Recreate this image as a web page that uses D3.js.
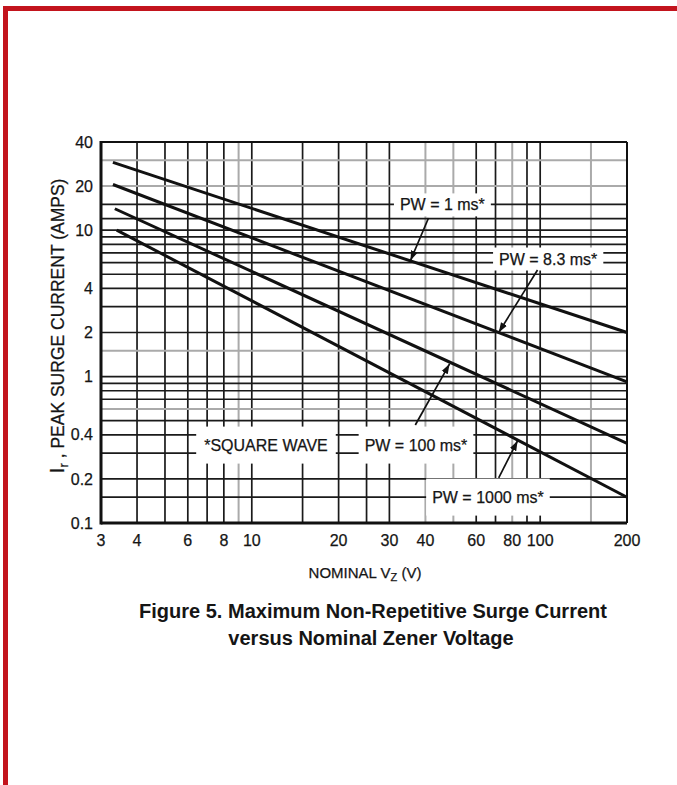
<!DOCTYPE html>
<html>
<head>
<meta charset="utf-8">
<title>Figure 5</title>
<script src="https://cdn.jsdelivr.net/npm/d3@7"></script>
<style>
  body { margin: 0; background: #fff; }
  text { font-family: "Liberation Sans", Arial, sans-serif; fill: #151515; stroke: #151515; stroke-width: 0.25px; }
  .title { font-weight: bold; font-size: 20px; stroke-width: 0; }
</style>
</head>
<body>
<svg id="chart" width="677" height="785"></svg>
<script>
// curves (Vz in volts, Ir in amps), straight on log-log
var seriesNames = ["PW = 1 ms*", "PW = 8.3 ms*", "PW = 100 ms*", "PW = 1000 ms*"];
var seriesVz = [[3.3, 200], [3.3, 200], [3.35, 200], [3.4, 200]];
var seriesIr = [[29, 2.0], [20.5, 0.92], [14, 0.35], [10, 0.15]];

var xTicks = [3, 4, 6, 8, 10, 20, 30, 40, 60, 80, 100, 200];
var yTicks = [0.1, 0.2, 0.4, 1, 2, 4, 10, 20, 40];
var xGrid = [4, 5, 6, 7, 8, 9, 10, 15, 20, 25, 30, 40, 50, 60, 70, 80, 90, 100, 150];
var xGridGray = [9, 40, 50, 80, 150];
var yGrid = [0.15, 0.2, 0.3, 0.4, 0.5, 0.6, 0.7, 0.8, 0.9, 1, 1.5, 2, 3, 4, 5, 6, 7, 8, 9, 10, 12, 15, 20, 30];
var yGridGray = [0.6, 1.5, 20, 30];

// labels + arrows, in data units
var labelVz = [45.8, 106.6, 37.1, 65.9];
var labelIr = [14.9, 6.36, 0.341, 0.1505];
var arrowFrom = [[41, 12.1], [97.9, 5.35], [36.9, 0.467], [71.8, 0.203]];
var arrowTo = [[35.5, 6.2], [71.8, 2.0], [48.5, 1.22], [83.5, 0.365]];
var noteText = "*SQUARE WAVE";
var notePos = [11.2, 0.341];

var svg = d3.select("#chart");
svg.append("rect").attr("width", 677).attr("height", 785).attr("fill", "#fff");

// red frame of the scan
svg.append("rect").attr("x", 3).attr("y", 6).attr("width", 674).attr("height", 5).attr("fill", "#c3141d");
svg.append("rect").attr("x", 3).attr("y", 6).attr("width", 5).attr("height", 779).attr("fill", "#c3141d");

var x = d3.scaleLog().domain([3, 200]).range([101, 627]);
var y = d3.scaleLog().domain([0.1, 40]).range([523, 142]);

var g = svg.append("g");

// grid
g.selectAll("line.vg")
    .data(xGrid)
    .enter()
    .append("line")
    .attr("class", "vg")
    .attr("x1", d => x(d)).attr("x2", d => x(d))
    .attr("y1", y(40)).attr("y2", y(0.1))
    .attr("stroke", d => xGridGray.includes(d) ? "#aaa" : "#1a1a1a")
    .attr("stroke-width", d => xGridGray.includes(d) ? 2 : 1.7);

g.selectAll("line.hg")
    .data(yGrid)
    .enter()
    .append("line")
    .attr("class", "hg")
    .attr("x1", x(3)).attr("x2", x(200))
    .attr("y1", d => y(d)).attr("y2", d => y(d))
    .attr("stroke", d => yGridGray.includes(d) ? "#aaa" : "#1a1a1a")
    .attr("stroke-width", d => yGridGray.includes(d) ? 2 : 1.7);

// frame
g.append("line").attr("x1", x(3)).attr("x2", x(200)).attr("y1", y(40)).attr("y2", y(40)).attr("stroke", "#111").attr("stroke-width", 2);
g.append("line").attr("x1", x(200)).attr("x2", x(200)).attr("y1", y(40)).attr("y2", y(0.1)).attr("stroke", "#111").attr("stroke-width", 2);
g.append("line").attr("x1", x(3)).attr("x2", x(3)).attr("y1", y(40) - 1).attr("y2", y(0.1) + 1.5).attr("stroke", "#111").attr("stroke-width", 3);
g.append("line").attr("x1", x(3)).attr("x2", x(200)).attr("y1", y(0.1)).attr("y2", y(0.1)).attr("stroke", "#111").attr("stroke-width", 3);

// white boxes that cut the grid behind labels
var boxes = g.append("g");
var labels = g.append("g");

function addLabel(txt, px, py, padX, padY) {
    var t = labels.append("text")
        .attr("x", px).attr("y", py)
        .attr("dy", "0.35em")
        .attr("text-anchor", "middle")
        .style("font-size", "16px")
        .text(txt);
    var b = t.node().getBBox();
    boxes.append("rect")
        .attr("x", b.x - padX).attr("y", b.y - padY)
        .attr("width", b.width + 2 * padX).attr("height", b.height + 2 * padY)
        .attr("fill", "#fff");
}

// curves
var line = d3.line().x(d => x(d[0])).y(d => y(d[1]));
seriesNames.forEach(function(name, i) {
    var pts = seriesVz[i].map((v, j) => [v, seriesIr[i][j]]);
    g.append("path")
        .attr("d", line(pts))
        .attr("fill", "none")
        .attr("stroke", "#111")
        .attr("stroke-width", 3);
});

svg.append("defs").append("marker")
    .attr("id", "arr")
    .attr("viewBox", "0 0 10 10")
    .attr("refX", 10).attr("refY", 5)
    .attr("markerWidth", 10).attr("markerHeight", 10)
    .attr("markerUnits", "userSpaceOnUse")
    .attr("orient", "auto")
    .append("path")
    .attr("d", "M0,1.5L10,5L0,8.5Z")
    .attr("fill", "#111");

seriesNames.forEach(function(name, i) {
    addLabel(name, x(labelVz[i]), y(labelIr[i]), 6, i < 2 ? 3 : 10);
    g.append("line")
        .attr("x1", x(arrowFrom[i][0])).attr("y1", y(arrowFrom[i][1]))
        .attr("x2", x(arrowTo[i][0])).attr("y2", y(arrowTo[i][1]))
        .attr("stroke", "#111")
        .attr("stroke-width", 1.7)
        .attr("marker-end", "url(#arr)");
});
addLabel(noteText, x(notePos[0]), y(notePos[1]), 8, 10);

// tick labels
svg.selectAll("text.xt")
    .data(xTicks)
    .enter()
    .append("text")
    .attr("class", "xt")
    .attr("x", d => x(d))
    .attr("y", 546)
    .attr("text-anchor", "middle")
    .style("font-size", "16px")
    .text(d => d);

svg.selectAll("text.yt")
    .data(yTicks)
    .enter()
    .append("text")
    .attr("class", "yt")
    .attr("x", 93)
    .attr("y", d => y(d))
    .attr("dy", "0.35em")
    .attr("text-anchor", "end")
    .style("font-size", "16px")
    .text(d => d);

// axis titles
var xt = svg.append("text")
    .attr("x", 365).attr("y", 578)
    .attr("text-anchor", "middle")
    .style("font-size", "15px");
xt.append("tspan").text("NOMINAL V");
xt.append("tspan").attr("dy", 3).style("font-size", "11px").text("Z");
xt.append("tspan").attr("dy", -3).text(" (V)");

var yt = svg.append("text")
    .attr("transform", "translate(64,326) rotate(-90)")
    .attr("text-anchor", "middle")
    .style("font-size", "17.5px");
yt.append("tspan").style("font-size", "21px").text("I");
yt.append("tspan").attr("dy", 4).style("font-size", "13px").text("r");
yt.append("tspan").attr("dy", -4).text(" , PEAK SURGE CURRENT (AMPS)");

svg.append("text").attr("class", "title")
    .attr("x", 373).attr("y", 618)
    .attr("text-anchor", "middle")
    .text("Figure 5. Maximum Non-Repetitive Surge Current");
svg.append("text").attr("class", "title")
    .attr("x", 371).attr("y", 645)
    .attr("text-anchor", "middle")
    .text("versus Nominal Zener Voltage");
</script>
</body>
</html>
